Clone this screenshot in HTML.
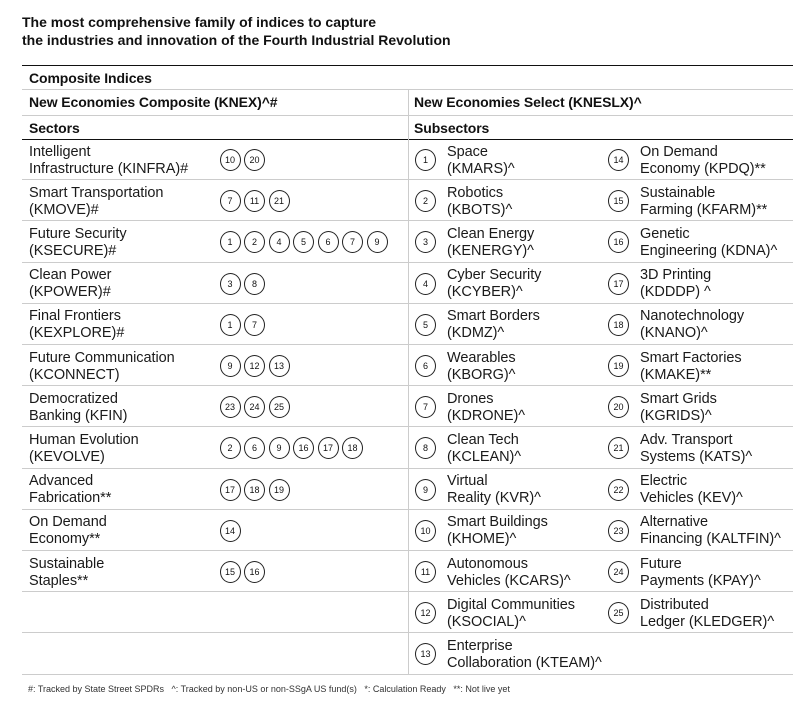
<!DOCTYPE html>
<html><head><meta charset="utf-8"><style>
*{margin:0;padding:0;box-sizing:border-box}
body{width:810px;height:721px;background:#fff;font-family:"Liberation Sans",sans-serif;color:#111;position:relative;overflow:hidden}
.t{position:absolute;left:22px;top:13px;font-size:14px;font-weight:bold;line-height:18px}
.h{position:absolute;height:1px;background:#ccc;left:22px;width:771px}
.k{background:#111}
.v{position:absolute;left:408px;width:1px;background:#ccc;top:89px;height:585px}
.r{position:absolute;left:0;width:810px;height:41.2px}
.r::after{content:"";position:absolute;left:22px;width:771px;bottom:0;height:1px;background:#ccc}
.l{position:absolute;font-size:14.5px;line-height:17px;white-space:nowrap;letter-spacing:-0.05px;top:4.5px;color:#1a1a1a}
.hd{position:absolute;font-size:14px;line-height:17px;white-space:nowrap;font-weight:bold;letter-spacing:-0.1px}
.c{position:absolute;top:10px;width:21px;height:22px;border:1px solid #222;border-radius:50%;font-size:9px;text-align:center;line-height:20px}
.f{position:absolute;left:28px;top:684px;font-size:9px;color:#333;white-space:nowrap}
.a{left:415px}.ta{left:447px}.b{left:608px}.tb{left:640px}.s{left:29px}
</style></head><body>
<div class="t">The most comprehensive family of indices to capture<br>the industries and innovation of the Fourth Industrial Revolution</div>
<div class="h k" style="top:65px"></div>
<div class="h" style="top:89px"></div>
<div class="h" style="top:115px"></div>
<div class="h k" style="top:139px"></div>
<div class="hd" style="left:29px;top:70px">Composite Indices</div>
<div class="hd" style="left:29px;top:94px">New Economies Composite (KNEX)^#</div>
<div class="hd" style="left:414px;top:94px">New Economies Select (KNESLX)^</div>
<div class="hd" style="left:29px;top:120px">Sectors</div>
<div class="hd" style="left:414px;top:120px">Subsectors</div>

<div class="r" style="top:139px"><div class="l s">Intelligent<br>Infrastructure (KINFRA)#</div><div class="c" style="left:219.5px">10</div><div class="c" style="left:244px">20</div><div class="c a">1</div><div class="l ta">Space<br>(KMARS)^</div><div class="c b">14</div><div class="l tb">On Demand<br>Economy (KPDQ)**</div></div>
<div class="r" style="top:180.2px"><div class="l s">Smart Transportation<br>(KMOVE)#</div><div class="c" style="left:219.5px">7</div><div class="c" style="left:244px">11</div><div class="c" style="left:268.5px">21</div><div class="c a">2</div><div class="l ta">Robotics<br>(KBOTS)^</div><div class="c b">15</div><div class="l tb">Sustainable<br>Farming (KFARM)**</div></div>
<div class="r" style="top:221.4px"><div class="l s">Future Security<br>(KSECURE)#</div><div class="c" style="left:219.5px">1</div><div class="c" style="left:244px">2</div><div class="c" style="left:268.5px">4</div><div class="c" style="left:293px">5</div><div class="c" style="left:317.5px">6</div><div class="c" style="left:342px">7</div><div class="c" style="left:366.5px">9</div><div class="c a">3</div><div class="l ta">Clean Energy<br>(KENERGY)^</div><div class="c b">16</div><div class="l tb">Genetic<br>Engineering (KDNA)^</div></div>
<div class="r" style="top:262.6px"><div class="l s">Clean Power<br>(KPOWER)#</div><div class="c" style="left:219.5px">3</div><div class="c" style="left:244px">8</div><div class="c a">4</div><div class="l ta">Cyber Security<br>(KCYBER)^</div><div class="c b">17</div><div class="l tb">3D Printing<br>(KDDDP) ^</div></div>
<div class="r" style="top:303.8px"><div class="l s">Final Frontiers<br>(KEXPLORE)#</div><div class="c" style="left:219.5px">1</div><div class="c" style="left:244px">7</div><div class="c a">5</div><div class="l ta">Smart Borders<br>(KDMZ)^</div><div class="c b">18</div><div class="l tb">Nanotechnology<br>(KNANO)^</div></div>
<div class="r" style="top:345px"><div class="l s">Future Communication<br>(KCONNECT)</div><div class="c" style="left:219.5px">9</div><div class="c" style="left:244px">12</div><div class="c" style="left:268.5px">13</div><div class="c a">6</div><div class="l ta">Wearables<br>(KBORG)^</div><div class="c b">19</div><div class="l tb">Smart Factories<br>(KMAKE)**</div></div>
<div class="r" style="top:386.2px"><div class="l s">Democratized<br>Banking (KFIN)</div><div class="c" style="left:219.5px">23</div><div class="c" style="left:244px">24</div><div class="c" style="left:268.5px">25</div><div class="c a">7</div><div class="l ta">Drones<br>(KDRONE)^</div><div class="c b">20</div><div class="l tb">Smart Grids<br>(KGRIDS)^</div></div>
<div class="r" style="top:427.4px"><div class="l s">Human Evolution<br>(KEVOLVE)</div><div class="c" style="left:219.5px">2</div><div class="c" style="left:244px">6</div><div class="c" style="left:268.5px">9</div><div class="c" style="left:293px">16</div><div class="c" style="left:317.5px">17</div><div class="c" style="left:342px">18</div><div class="c a">8</div><div class="l ta">Clean Tech<br>(KCLEAN)^</div><div class="c b">21</div><div class="l tb">Adv. Transport<br>Systems (KATS)^</div></div>
<div class="r" style="top:468.6px"><div class="l s">Advanced<br>Fabrication**</div><div class="c" style="left:219.5px">17</div><div class="c" style="left:244px">18</div><div class="c" style="left:268.5px">19</div><div class="c a">9</div><div class="l ta">Virtual<br>Reality (KVR)^</div><div class="c b">22</div><div class="l tb">Electric<br>Vehicles (KEV)^</div></div>
<div class="r" style="top:509.8px"><div class="l s">On Demand<br>Economy**</div><div class="c" style="left:219.5px">14</div><div class="c a">10</div><div class="l ta">Smart Buildings<br>(KHOME)^</div><div class="c b">23</div><div class="l tb">Alternative<br>Financing (KALTFIN)^</div></div>
<div class="r" style="top:551px"><div class="l s">Sustainable<br>Staples**</div><div class="c" style="left:219.5px">15</div><div class="c" style="left:244px">16</div><div class="c a">11</div><div class="l ta">Autonomous<br>Vehicles (KCARS)^</div><div class="c b">24</div><div class="l tb">Future<br>Payments (KPAY)^</div></div>
<div class="r" style="top:592.2px"><div class="c a">12</div><div class="l ta">Digital Communities<br>(KSOCIAL)^</div><div class="c b">25</div><div class="l tb">Distributed<br>Ledger (KLEDGER)^</div></div>
<div class="r" style="top:633.4px"><div class="c a">13</div><div class="l ta">Enterprise<br>Collaboration (KTEAM)^</div></div>

<div class="v"></div>
<div class="f">#: Tracked by State Street SPDRs &nbsp;&nbsp;^: Tracked by non-US or non-SSgA US fund(s) &nbsp;&nbsp;*: Calculation Ready &nbsp;&nbsp;**: Not live yet</div>
</body></html>
